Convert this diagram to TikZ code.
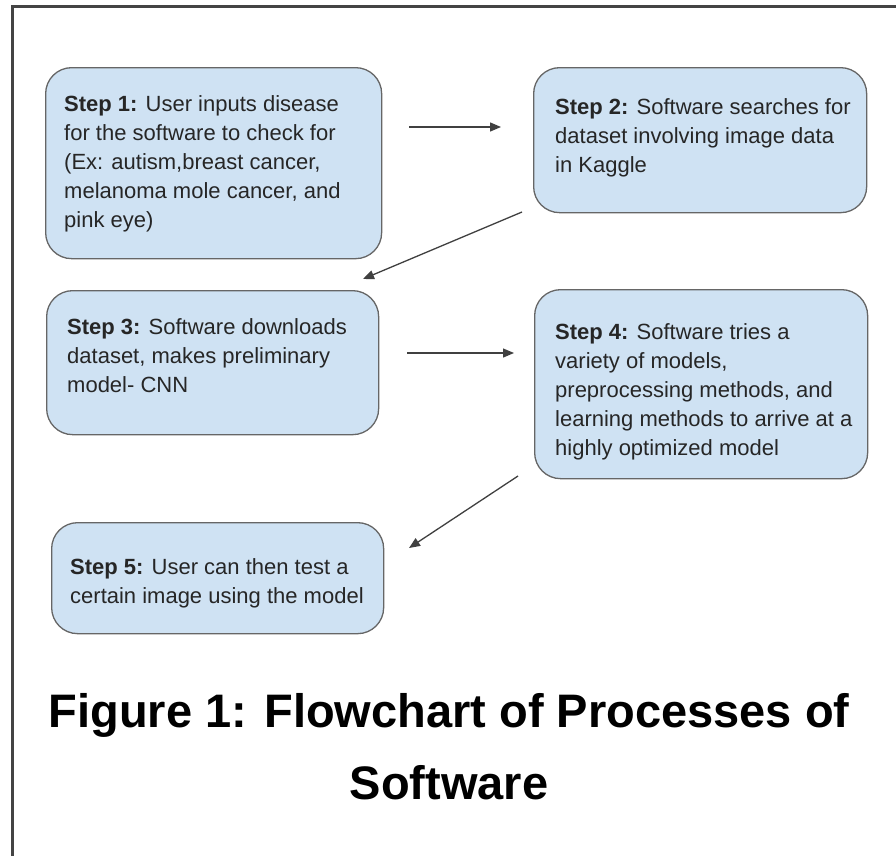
\documentclass[tikz,border=0pt]{standalone}
\usepackage{fontspec}
\setmainfont{Liberation Sans}
\usetikzlibrary{arrows.meta}
\definecolor{boxfill}{HTML}{CFE2F3}
\definecolor{boxline}{HTML}{666666}
\definecolor{txt}{HTML}{262626}
\definecolor{arr}{HTML}{404040}
\definecolor{frame}{HTML}{444444}
\begin{document}
\begin{tikzpicture}[x=1pt,y=-1pt,
  stepbox/.style={draw=boxline, line width=1.3pt, fill=boxfill, rounded corners=26pt, anchor=north west, inner sep=0pt},
  steptext/.style={anchor=north west, inner sep=0pt, align=left, text=txt, font=\fontsize{22}{29}\selectfont},
  flow/.style={draw=arr, line width=1.3pt, -{Triangle[length=11pt,width=9pt]}}]
\useasboundingbox (0,0) rectangle (896,855);
\fill[white] (0,0) rectangle (896,855);
% frame
\draw[frame, line width=3pt] (12,856) -- (12,6.5) -- (897,6.5);
% boxes
\node[stepbox, minimum width=336pt, minimum height=191pt] (b1) at (45,67) {};
\node[stepbox, minimum width=333pt, minimum height=145pt] (b2) at (533,67) {};
\node[stepbox, minimum width=332pt, minimum height=144pt] (b3) at (46,290) {};
\node[stepbox, minimum width=333pt, minimum height=189pt] (b4) at (534,289) {};
\node[stepbox, minimum width=332pt, minimum height=111pt] (b5) at (51,522) {};
% texts
\node[steptext] (t1) at (64,95) {\textbf{Step 1:} User inputs disease\\for the software to check for\\(Ex: autism,breast cancer,\\melanoma mole cancer, and\\pink eye)};
\node[steptext] (t2) at (555,98) {\textbf{Step 2:} Software searches for\\dataset involving image data\\in Kaggle};
\node[steptext] (t3) at (67,318) {\textbf{Step 3:} Software downloads\\dataset, makes preliminary\\model- CNN};
\node[steptext] (t4) at (555,323) {\textbf{Step 4:} Software tries a\\variety of models,\\preprocessing methods, and\\learning methods to arrive at a\\highly optimized model};
\node[steptext] (t5) at (70,558) {\textbf{Step 5:} User can then test a\\certain image using the model};
% arrows
\coordinate (a1s) at (409,127); \coordinate (a1e) at (501,127);
\coordinate (a2s) at (522,212); \coordinate (a2e) at (363,279);
\coordinate (a3s) at (407,353); \coordinate (a3e) at (514,353);
\coordinate (a4s) at (518,476); \coordinate (a4e) at (409,548);
\draw[flow] (a1s) -- (a1e);
\draw[flow] (a2s) -- (a2e);
\draw[flow] (a3s) -- (a3e);
\draw[flow] (a4s) -- (a4e);
% title
\node[anchor=north, inner sep=0pt, align=center, text=black, font=\fontsize{47}{72}\selectfont\bfseries] (title) at (449,693) {Figure 1: Flowchart of Processes of\\Software};
\end{tikzpicture}
\end{document}
